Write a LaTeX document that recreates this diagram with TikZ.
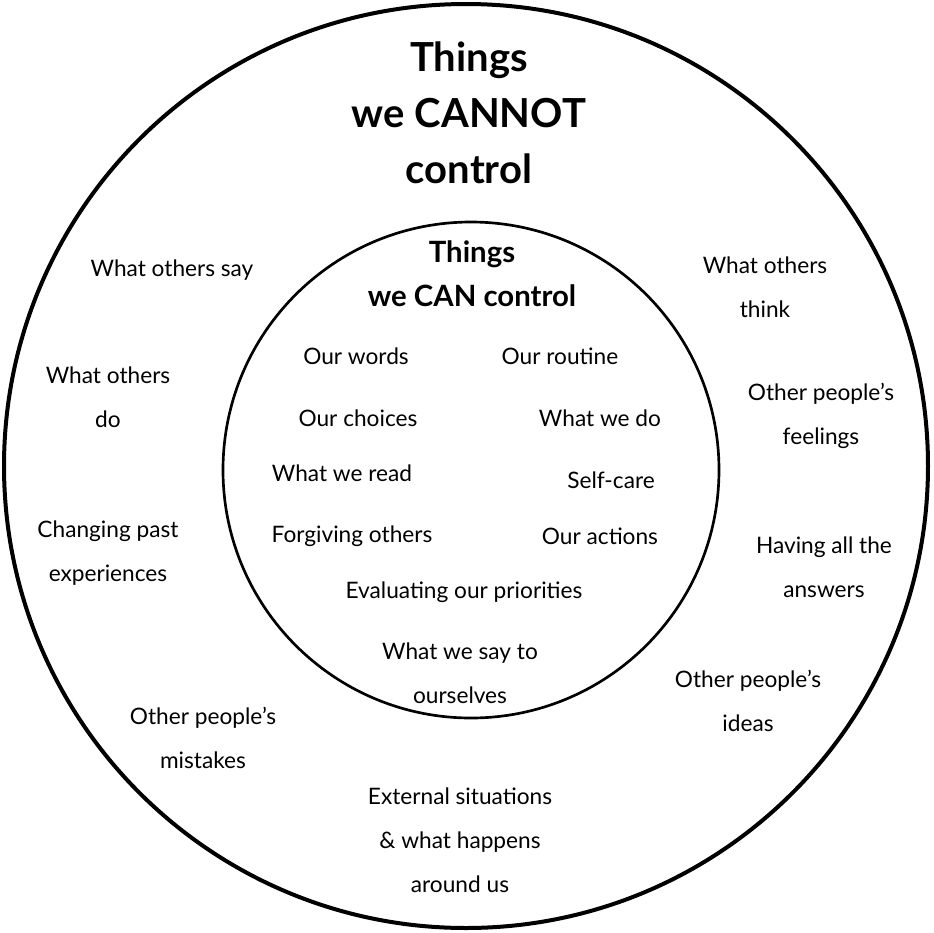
\documentclass[tikz,border=0pt]{standalone}
\usepackage{fontspec}
\setmainfont{Lato}
\tikzset{every picture/.style={line width=0.75pt}}
\tikzset{
  item/.style={align=center, font=\fontsize{17}{33}\selectfont},
  bigtitle/.style={align=center, font=\fontsize{30}{42}\selectfont\bfseries},
  smalltitle/.style={align=center, font=\fontsize{22}{33}\selectfont\bfseries}
}
\begin{document}
\begin{tikzpicture}[x=0.75pt,y=0.75pt,yscale=-1,xscale=1]
	\useasboundingbox (0,0) rectangle (933,933);

	%Shape: Circle [id:outer]
	\draw [line width=3pt] (466,466) circle (462) ;
	%Shape: Circle [id:inner]
	\draw [line width=2pt] (471,470) circle (248) ;

	% Text Node
	\node [bigtitle] (cannot) at (469,113) {Things\\we CANNOT\\control};
	% Text Node
	\node [smalltitle] (can) at (472,274) {Things\\we CAN control};

	% Inner items
	\node [item] (words) at (356,356) {Our words};
	\node [item] (routine) at (560,356) {Our routine};
	\node [item] (choices) at (358,418) {Our choices};
	\node [item] (whatdo) at (600,418) {What we do};
	\node [item] (read) at (342,473) {What we read};
	\node [item] (selfcare) at (611,480) {Self-care};
	\node [item] (forgive) at (352,536) {Forgiving others};
	\node [item] (actions) at (600,536) {Our actions};
	\node [item] (priorities) at (464,592) {Evaluating our priorities};
	\node [item] (sayto) at (460,673) {What we say to\\ourselves};

	% Outer items
	\node [item] (say) at (172,270) {What others say};
	\node [item] (think) at (765,287) {What others\\think};
	\node [item] (odo) at (108,397) {What others\\do};
	\node [item] (feelings) at (821,416) {Other people's\\feelings};
	\node [item] (past) at (108,553) {Changing past\\experiences};
	\node [item] (answers) at (824,567) {Having all the\\answers};
	\node [item] (ideas) at (748,701) {Other people's\\ideas};
	\node [item] (mistakes) at (203,738) {Other people's\\mistakes};
	\node [item] (external) at (460,840) {External situations\\\& what happens\\around us};

\end{tikzpicture}
\end{document}
